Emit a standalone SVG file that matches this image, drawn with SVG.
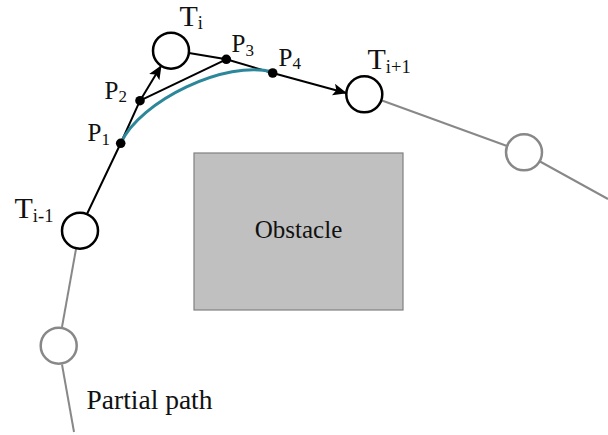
<svg xmlns="http://www.w3.org/2000/svg" width="608" height="435" viewBox="0 0 608 435">
<style>
.lbl{font-family:"Liberation Serif","Times New Roman",serif;fill:#111}
.big{font-size:30px}
.pl{font-size:25px}
.sub{font-size:18.5px}
.psub{font-size:17px}
.node{fill:#fff;stroke:#000;stroke-width:2.5}
.gnode{fill:#fff;stroke:#888;stroke-width:2.5}
.edge{fill:none;stroke:#000;stroke-width:2}
.gedge{fill:none;stroke:#888;stroke-width:2}
.pt{fill:#000}
</style>
<defs>
<marker id="arr" markerUnits="userSpaceOnUse" markerWidth="14" markerHeight="12" viewBox="0 0 14 12" refX="13" refY="6" orient="auto">
<path d="M0,0 L14,6 L0,12 L3,6 Z" fill="#000"/>
</marker>
</defs>
<g id="obstacle">
<rect x="194" y="153" width="209" height="157" fill="#c0c0c0" stroke="#808080" stroke-width="1.2"/>
<text class="lbl" x="298.5" y="238" font-size="25" text-anchor="middle">Obstacle</text>
</g>
<g id="connectors">
<polyline class="gedge" points="382,100.5 507,146"/>
<polyline class="gedge" points="540,161.5 608,199"/>
<polyline class="gedge" points="76,249 62,327"/>
<polyline class="gedge" points="62,364.5 74,432"/>
<polyline class="edge" points="87,214 120.7,143.3 140,100.7" />
<line class="edge" x1="140" y1="100.7" x2="161" y2="66" marker-end="url(#arr)"/>
<line class="edge" x1="140" y1="100.7" x2="226.3" y2="59.3"/>
<polyline class="edge" points="189,53 226.3,59.3 272.7,73"/>
<line class="edge" x1="272.7" y1="73" x2="346" y2="93" marker-end="url(#arr)"/>
<path d="M120.7,143.3 C140,100.7 226.3,59.3 272.7,72" fill="none" stroke="#2b8799" stroke-width="3"/>
</g>
<g id="T_i-1">
<circle class="node" cx="80" cy="230.7" r="18"/>
<text class="lbl big" x="14.5" y="218.3">T<tspan class="sub" dy="3.4">i-1</tspan></text>
</g>
<g id="T_i">
<circle class="node" cx="171" cy="50.7" r="18"/>
<text class="lbl big" x="179.5" y="26">T<tspan class="sub" dy="3">i</tspan></text>
</g>
<g id="T_i+1">
<circle class="node" cx="364.3" cy="94.3" r="18"/>
<text class="lbl big" x="367.5" y="69.3">T<tspan class="sub" dy="4">i+1</tspan></text>
</g>
<g id="next">
<circle class="gnode" cx="524" cy="152.3" r="18"/>
</g>
<g id="prev">
<circle class="gnode" cx="58.7" cy="345.7" r="18"/>
</g>
<g id="P1">
<circle class="pt" cx="120.7" cy="143.3" r="4.8"/>
<text class="lbl pl" x="87.5" y="141">P<tspan class="psub" dy="4">1</tspan></text>
</g>
<g id="P2">
<circle class="pt" cx="140" cy="100.7" r="4.8"/>
<text class="lbl pl" x="104.5" y="99.3">P<tspan class="psub" dy="3">2</tspan></text>
</g>
<g id="P3">
<circle class="pt" cx="226.3" cy="59.3" r="4.8"/>
<text class="lbl pl" x="231.5" y="51.7">P<tspan class="psub" dy="4">3</tspan></text>
</g>
<g id="P4">
<circle class="pt" cx="272.7" cy="73" r="4.8"/>
<text class="lbl pl" x="278.5" y="66">P<tspan class="psub" dy="3">4</tspan></text>
</g>
<g id="label">
<text class="lbl" x="86.5" y="409" font-size="27.5">Partial path</text>
</g>
</svg>
